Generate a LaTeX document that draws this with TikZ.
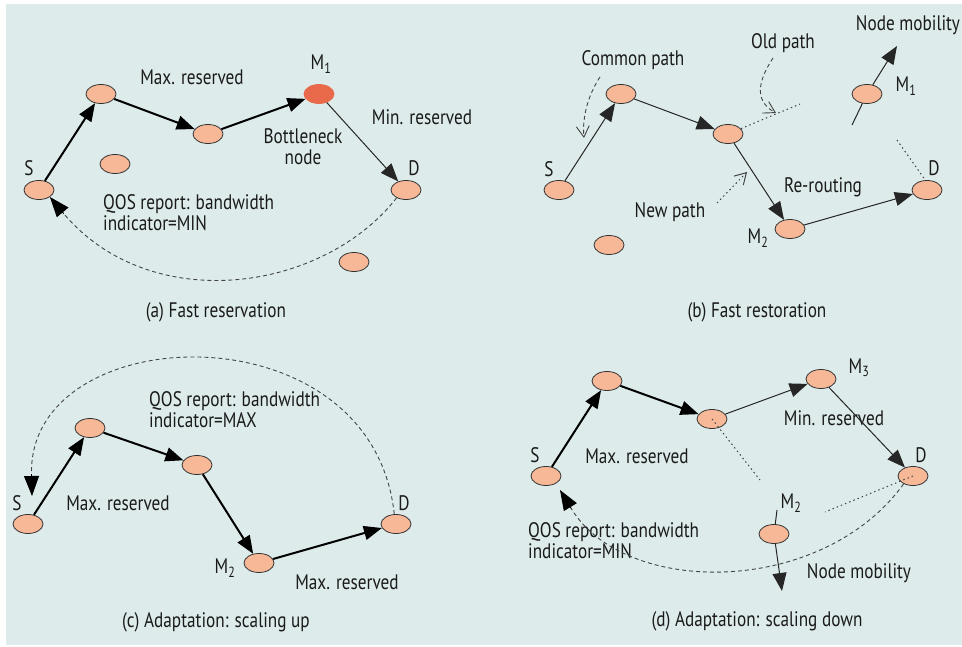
\documentclass[tikz,border=0pt]{standalone}
\usepackage{fontspec}
\setmainfont{PT Sans}[FakeStretch=0.82]
\usetikzlibrary{shapes.geometric,arrows.meta}

\definecolor{bgc}{HTML}{DDECEB}
\definecolor{peach}{HTML}{F7B898}
\definecolor{rednode}{HTML}{E86A4A}
\definecolor{edgec}{HTML}{333333}
\definecolor{ink}{HTML}{1A1A1A}
\definecolor{dashc}{HTML}{444444}

\tikzset{
  mn/.style={ellipse, draw=edgec, line width=0.8pt, fill=peach,
             minimum width=30pt, minimum height=19pt, inner sep=0pt},
  hot/.style={mn, fill=rednode, draw=rednode},
  txt/.style={font=\fontsize{21}{21}\selectfont, text=ink, inner sep=0pt},
  txtl/.style={txt, align=left, anchor=west},
  heavy/.style={draw=black, line width=2pt, -{Triangle[length=18pt,width=14pt]}},
  light/.style={draw=black!85, line width=1pt, -{Triangle[length=18pt,width=14pt]}},
  plainline/.style={draw=black!85, line width=1pt},
  report/.style={draw=dashc, line width=0.9pt, dash pattern=on 4pt off 3pt},
  reporttip/.style={draw=black, line width=0.9pt, -{Triangle[length=20pt,width=15pt]}},
  hint/.style={draw=dashc, line width=0.9pt, dash pattern=on 4pt off 3pt,
               -{Straight Barb[length=11pt,width=13pt]}},
  hintdot/.style={draw=dashc, line width=1pt, dash pattern=on 1.5pt off 3pt,
               -{Straight Barb[length=11pt,width=13pt]}},
  dotline/.style={draw=dashc, line width=1pt, dash pattern=on 1.5pt off 3pt},
}

\begin{document}
\begin{tikzpicture}[x=1pt,y=-1pt]
\useasboundingbox (0,0) rectangle (962,647);
\fill[bgc] (6,4) rectangle (962,645);

% ---------------- (a) Fast reservation ----------------
\node[mn]  (aS) at (39,190) {};
\node[mn]  (a2) at (101,94) {};
\node[mn]  (a3) at (208,134) {};
\node[hot] (aM) at (319,94) {};
\node[mn]  (aD) at (406,190) {};
\node[mn]  (ax1) at (115,164) {};
\node[mn]  (ax2) at (354,262) {};

\node[txt] (aSl) at (29,168) {S};
\node[txt] (aDl) at (414,168) {D};
\node[txt] (aMl) at (321,64) {M\textsubscript{1}};
\node[txt] (amax) at (192,77) {Max. reserved};
\node[txt] (amin) at (422,117) {Min. reserved};
\node[txt, align=center] (abot) at (303,147) {Bottleneck\\node};
\node[txtl] (aqos) at (103,213) {QOS report: bandwidth\\indicator=MIN};
\node[txt] (acap) at (216,312) {(a) Fast reservation};

\draw[heavy] (aS) -- (a2);
\draw[heavy] (a2) -- (a3);
\draw[heavy] (a3) -- (aM);
\draw[light] (aM) -- (aD);
% QoS report travelling back from D to S
\coordinate (aret) at (63.7,213.6);
\draw[report] (aD.220) .. controls (322,293) and (150,316) .. (aret);
\draw[reporttip] (aret) -- (aS.south east);

% ---------------- (b) Fast restoration ----------------
\coordinate (bm1a) at (852,125);
\coordinate (bm1b) at (897,46);
\draw[plainline] (bm1a) -- (867,94);

\node[mn] (bS) at (559,190) {};
\node[mn] (b2) at (621,94) {};
\node[mn] (b3) at (728,134) {};
\node[mn] (bM2) at (790,229) {};
\node[mn] (bD) at (927,190) {};
\node[mn] (bM1) at (867,94) {};
\node[mn] (bx) at (609,245) {};

\node[txt] (bSl) at (549,169) {S};
\node[txt] (bDl) at (934,168) {D};
\node[txt] (bM1l) at (906,86) {M\textsubscript{1}};
\node[txt] (bM2l) at (758,238) {M\textsubscript{2}};
\node[txt] (bmob) at (908,25) {Node mobility};
\node[txt] (bold) at (783,43) {Old path};
\node[txt] (bcom) at (633,60) {Common path};
\node[txt] (bnew) at (670,212) {New path};
\node[txt] (brer) at (823,187) {Re-routing};
\node[txt] (bcap) at (757,312) {(b) Fast restoration};

\draw[light] (bS) -- (b2);
\draw[light] (b2) -- (b3);
\draw[light] (b3) -- (bM2);
\draw[light] (bM2) -- (bD);
\draw[light] (bM1) -- (bm1b);

\coordinate (bo1) at (800,104);
\coordinate (bo2) at (897,140);
\draw[dotline] (b3) -- (bo1);
\draw[dotline] (bo2) -- (bD.100);

\coordinate (bc0) at (600,77);
\coordinate (bc1) at (584,138);
\draw[hint] (bc0) .. controls (588,95) and (582,118) .. (bc1);
\coordinate (bl0) at (773,58);
\coordinate (bl1) at (776,113);
\draw[hint] (bl0) .. controls (760,78) and (752,100) .. (bl1);
\coordinate (bn0) at (717,203);
\coordinate (bn1) at (747,172);
\draw[hintdot] (bn0) -- (bn1);

% ---------------- (c) Adaptation: scaling up ----------------
\node[mn] (cS) at (28,524) {};
\node[mn] (c2) at (90,428) {};
\node[mn] (c3) at (197,465) {};
\node[mn] (cM2) at (259,563) {};
\node[mn] (cD) at (396,524) {};

\node[txt] (cSl) at (17,503) {S};
\node[txt] (cDl) at (404,503) {D};
\node[txt] (cM2l) at (225,568) {M\textsubscript{2}};
\node[txt] (cmax1) at (118,503) {Max. reserved};
\node[txt] (cmax2) at (347,582) {Max. reserved};
\node[txtl] (cqos) at (149,410) {QOS report: bandwidth\\indicator=MAX};
\node[txt] (ccap) at (216,622) {(c) Adaptation: scaling up};

\draw[heavy] (cS) -- (c2);
\draw[heavy] (c2) -- (c3);
\draw[heavy] (c3) -- (cM2);
\draw[heavy] (cM2) -- (cD);
\coordinate (cret) at (31.5,474);
\coordinate (ctip) at (32,496);
\draw[report] (cD.100) .. controls (372,305) and (28,318) .. (cret);
\draw[reporttip] (cret) -- (ctip);

% ---------------- (d) Adaptation: scaling down ----------------
\coordinate (dm2a) at (777,510);
\coordinate (dm2b) at (782,591);
\coordinate (do1) at (760,480);
\coordinate (do2) at (825,512);

\node[mn] (dS) at (546,476) {};
\node[mn] (d2) at (607,381) {};
\node[mn] (d3) at (712,419) {};
\node[mn] (dM3) at (821,379) {};
\node[mn] (dD) at (913,476) {};
\node[mn] (dM2) at (774,534) {};

\draw[dotline] (d3.center) -- (do1);
\draw[dotline] (dD.center) -- (do2);

\node[txt] (dSl) at (535,455) {S};
\node[txt] (dDl) at (921,455) {D};
\node[txt] (dM3l) at (859,368) {M\textsubscript{3}};
\node[txt] (dM2l) at (791,503) {M\textsubscript{2}};
\node[txt] (dmax) at (637,456) {Max. reserved};
\node[txt] (dmin) at (834,418) {Min. reserved};
\node[txt] (dmob) at (859,573) {Node mobility};
\node[txtl] (dqos) at (528,541) {QOS report: bandwidth\\indicator=MIN};
\node[txt] (dcap) at (757,621) {(d) Adaptation: scaling down};

\draw[heavy] (dS) -- (d2);
\draw[heavy] (d2) -- (d3);
\draw[light] (d3) -- (dM3);
\draw[light] (dM3) -- (dD);
\draw[plainline] (dm2a) -- (dM2);
\draw[light] (dM2) -- (dm2b);
\coordinate (dret) at (571.4,508.8);
\coordinate (dtip) at (560,490);
\draw[report] (dD.220) .. controls (822,597) and (625,597) .. (dret);
\draw[reporttip] (dret) -- (dtip);

\end{tikzpicture}
\end{document}
